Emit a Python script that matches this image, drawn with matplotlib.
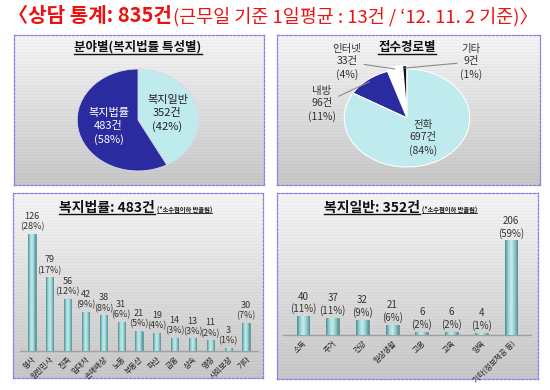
import numpy as np
import matplotlib.pyplot as plt
from matplotlib.colors import LinearSegmentedColormap
from matplotlib.lines import Line2D
from matplotlib.transforms import IdentityTransform

plt.rcParams['font.family'] = ['Noto Sans CJK KR', 'DejaVu Sans']

# ---- data ----
field_labels = ['복지일반', '복지법률']
field_counts = [352, 483]
field_pcts = [42, 58]

route_labels = ['기타', '인터넷', '내방', '전화']
route_counts = [9, 33, 96, 697]
route_pcts = [1, 4, 11, 84]

law_labels = ['형사', '일반민사', '친족', '임대차', '손해배상', '노동', '부동산',
              '파산', '금융', '상속', '행정', '사회보장', '기타']
law_counts = [126, 79, 56, 42, 38, 31, 21, 19, 14, 13, 11, 3, 30]
law_pcts = [28, 17, 12, 9, 8, 6, 5, 4, 3, 3, 2, 1, 7]

gen_labels = ['소득', '주거', '건강', '일상생활', '고용', '교육', '양육', '기타(정보제공 등)']
gen_counts = [40, 37, 32, 21, 6, 6, 4, 206]
gen_pcts = [11, 11, 9, 6, 2, 2, 1, 59]

W, H = 550, 390
fig = plt.figure(figsize=(5.5, 3.9), dpi=100)
fig.patch.set_facecolor('white')


def box(x0, y0, x1, y1):
    # pixel box (top-left origin) -> figure fraction rect
    return [x0 / W, 1 - y1 / H, (x1 - x0) / W, (y1 - y0) / H]


def fpos(x, y):
    return x / W, 1 - y / H


def panel(x0, y0, x1, y1):
    ax = fig.add_axes(box(x0, y0, x1, y1), zorder=0)
    n = int(y1 - y0)
    g = np.linspace(0.96, 0.78, n)
    g = g - 0.02 * (np.arange(n) % 3 == 0)
    ax.imshow(np.repeat(g[:, None], 2, axis=1), cmap='gray', vmin=0, vmax=1,
              aspect='auto', extent=[0, 1, 0, 1], interpolation='nearest')
    ax.set_xticks([])
    ax.set_yticks([])
    for s in ax.spines.values():
        s.set_linestyle((0, (2, 1.3)))
        s.set_color('#8282e6')
        s.set_linewidth(0.9)
    return ax


underlined = []


def utext(x, y, s, size, ha='center', weight='bold'):
    fx, fy = fpos(x, y)
    t = fig.text(fx, fy, s, fontsize=size, fontweight=weight, ha=ha,
                 va='baseline', color='#111111', zorder=5)
    underlined.append(t)
    return t


# ---- panels ----
panel(14, 35, 264, 185)
panel(277, 35, 540, 185)
panel(13, 193, 263, 378)
panel(277, 193, 538, 379)

# ---- main title ----
t1 = fig.text(*fpos(8, 22), '〈상담 통계: 835건', fontsize=14.5, fontweight='bold',
              color='#ee1111', ha='left', va='baseline')

# ---- pie 1 ----
ax1 = fig.add_axes(box(76, 68, 200, 172), zorder=2)
w1, _ = ax1.pie(field_counts, colors=['#bfeaee', '#2b2ba0'], startangle=90,
                counterclock=False,
                wedgeprops=dict(edgecolor='#d8d8e8', linewidth=0.6))
ax1.set_aspect('auto')
ax1.set_xlim(-1.02, 1.02)
ax1.set_ylim(-1.02, 1.02)
for w, lab, c, p, col in zip(w1, field_labels, field_counts, field_pcts,
                             ['#222222', 'white']):
    a = np.deg2rad((w.theta1 + w.theta2) / 2)
    ax1.text(0.5 * np.cos(a), 0.5 * np.sin(a), f'{lab}\n{c}건\n({p}%)',
             ha='center', va='center', fontsize=8, color=col, linespacing=1.35)
utext(138, 51, '분야별(복지법률 특성별)', 9)

# ---- pie 2 ----
ax2 = fig.add_axes(box(343, 68, 471, 168), zorder=2)
w2, _ = ax2.pie(route_counts, colors=['#111111', '#ffffff', '#2b2ba0', '#bfeaee'],
                startangle=90, explode=[0.07, 0.07, 0.0, 0.0],
                wedgeprops=dict(edgecolor='white', linewidth=0.8))
ax2.set_aspect('auto')
ax2.set_xlim(-1.02, 1.02)
ax2.set_ylim(-1.02, 1.02)
label_px = {'기타': (471, 62), '인터넷': (347, 62), '내방': (322, 104)}
for w, lab, c, p in zip(w2, route_labels, route_counts, route_pcts):
    s = f'{lab}\n{c}건\n({p}%)'
    a = np.deg2rad((w.theta1 + w.theta2) / 2)
    cx, cy = w.center
    if lab in label_px:
        ax2.annotate(s, xy=(cx + 0.95 * np.cos(a), cy + 0.95 * np.sin(a)),
                     xytext=fpos(*label_px[lab]), textcoords='figure fraction',
                     ha='center', va='center', fontsize=7.5, color='#333333',
                     linespacing=1.3, annotation_clip=False,
                     arrowprops=dict(arrowstyle='-', color='#8a8a8a', lw=0.8,
                                     shrinkA=0, shrinkB=0))
    else:
        ax2.text(0.25, -0.4, s, ha='center', va='center', fontsize=7.5,
                 color='#333333', linespacing=1.3)
utext(407, 51, '접수경로별', 9)

# ---- bar charts ----
cyl = LinearSegmentedColormap.from_list(
    'cyl', ['#4d8c8e', '#9ad4d6', '#c6eeee', '#8ecacc', '#558f91'])


def bars(rect, labels, counts, pcts, width, ymax, fs_val, fs_tick):
    ax = fig.add_axes(box(*rect), zorder=2)
    ax.patch.set_alpha(0)
    x = np.arange(len(counts))
    bs = ax.bar(x, counts, width=width, color='#9fd3d4', edgecolor='#4f8082',
                linewidth=0.5, zorder=2)
    grad = np.linspace(0, 1, 64)[None, :]
    for b in bs:
        ax.imshow(grad, cmap=cyl, aspect='auto', interpolation='bilinear',
                  extent=[b.get_x(), b.get_x() + b.get_width(), 0, b.get_height()],
                  zorder=3)
    for xi, c, p in zip(x, counts, pcts):
        ax.text(xi, c + ymax * 0.02, f'{c}\n({p}%)', ha='center', va='bottom',
                fontsize=fs_val, color='#333333', linespacing=1.2)
    ax.set_xlim(-0.67, len(counts) - 0.33)
    ax.set_ylim(0, ymax)
    ax.set_xticks(x)
    ax.set_xticklabels(labels, rotation=45, ha='right', va='top',
                       rotation_mode='anchor', fontsize=fs_tick, color='#222222')
    ax.tick_params(axis='x', length=0, pad=3)
    ax.set_yticks([])
    for s in ['top', 'left', 'right']:
        ax.spines[s].set_visible(False)
    ax.spines['bottom'].set_color('#a0a0a0')
    ax.spines['bottom'].set_linewidth(1.0)
    return ax


bars((20, 210, 258, 351), law_labels, law_counts, law_pcts, 0.4, 152, 6.5, 5.5)
utext(107, 212, '복지법률: 483건', 10)
utext(157, 212, '(*소수점이하 반올림)', 4.5, ha='left')

bars((283, 220, 531, 335), gen_labels, gen_counts, gen_pcts, 0.43, 252, 7, 5.5)
utext(372, 212, '복지일반: 352건', 10)
utext(422, 212, '(*소수점이하 반올림)', 4.5, ha='left')

# ---- second part of title + underlines ----
renderer = fig.canvas.get_renderer()
bb = t1.get_window_extent(renderer)
fig.text(bb.x1 / W + 0.002, 1 - 22 / H, '(근무일 기준 1일평균 : 13건 / ‘12. 11. 2 기준)〉',
         fontsize=13.3, color='#ee1111', ha='left', va='baseline')

for t in underlined:
    e = t.get_window_extent(renderer)
    lw = 0.6 if t.get_fontsize() < 6 else 1.0
    fig.add_artist(Line2D([e.x0, e.x1], [e.y0 + 0.5, e.y0 + 0.5], color='#111111',
                          lw=lw, transform=IdentityTransform(), zorder=5))

fig.savefig('out.png', dpi=100)
